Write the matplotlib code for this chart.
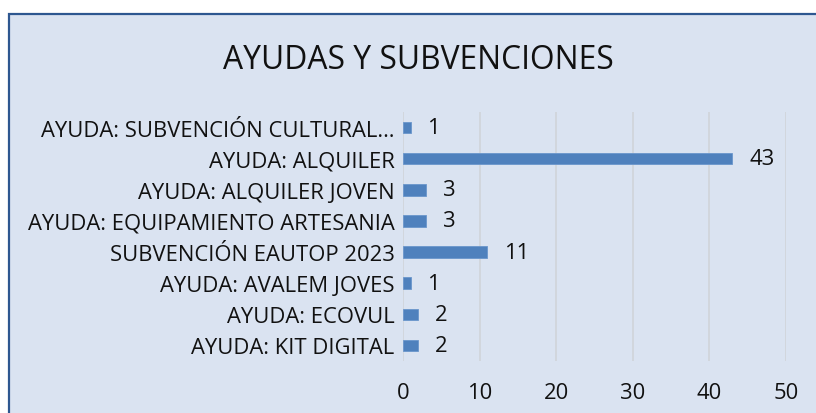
import matplotlib
matplotlib.use("Agg")
import matplotlib.pyplot as plt
from matplotlib.patches import Rectangle

plt.rcParams['font.family'] = ['Open Sans', 'DejaVu Sans']

title = "AYUDAS Y SUBVENCIONES"
categories = [
    "AYUDA: SUBVENCIÓN CULTURAL…",
    "AYUDA: ALQUILER",
    "AYUDA: ALQUILER JOVEN",
    "AYUDA: EQUIPAMIENTO ARTESANIA",
    "SUBVENCIÓN EAUTOP 2023",
    "AYUDA: AVALEM JOVES",
    "AYUDA: ECOVUL",
    "AYUDA: KIT DIGITAL",
]
values = [1, 43, 3, 3, 11, 1, 2, 2]
xticks = [0, 10, 20, 30, 40, 50]

bg = "#DAE3F1"
border = "#2E5790"
bar_color = "#4F81BD"
grid_color = "#D0D4DA"
text_color = "#111111"
fs = 15.8

fig = plt.figure(figsize=(8.16, 4.14), dpi=100)
fig.patch.set_facecolor("white")
fig.patches.append(Rectangle((9/816, -0.05), 1.05, 1 - 15/414 + 0.05,
                             transform=fig.transFigure, facecolor=bg,
                             edgecolor=border, linewidth=1.6, zorder=-10))

ax = fig.add_axes([403/816, 1 - 362/414, (786 - 403)/816, (362 - 113)/414])
ax.set_zorder(2)
ax.set_facecolor("none")
y = list(range(len(categories)))
ax.barh(y, values, height=0.37, color=bar_color, edgecolor="#6A96CC",
        linewidth=0.6, zorder=3)
ax.set_ylim(len(categories) - 0.5, -0.5)
ax.set_xlim(0, 50)
ax.set_yticks(y)
ax.set_yticklabels(categories, fontsize=fs, color=text_color)
ax.set_xticks(xticks)
ax.set_xticklabels([str(t) for t in xticks], fontsize=fs, color=text_color)
ax.tick_params(axis='both', length=0)
ax.tick_params(axis='y', pad=6)
ax.tick_params(axis='x', pad=15)
for s in ax.spines.values():
    s.set_visible(False)
ax.xaxis.grid(True, color=grid_color, linewidth=1.2, zorder=0)
ax.set_axisbelow(True)

for yi, v in zip(y, values):
    ax.annotate(str(v), (v, yi), xytext=(12, 0), textcoords="offset points",
                va="center", ha="left", fontsize=fs, color=text_color)

fig.text(418/816, 1 - 69/414, title, ha="center", va="baseline",
         fontsize=22.9, color=text_color)

fig.savefig("out.png", dpi=100)
